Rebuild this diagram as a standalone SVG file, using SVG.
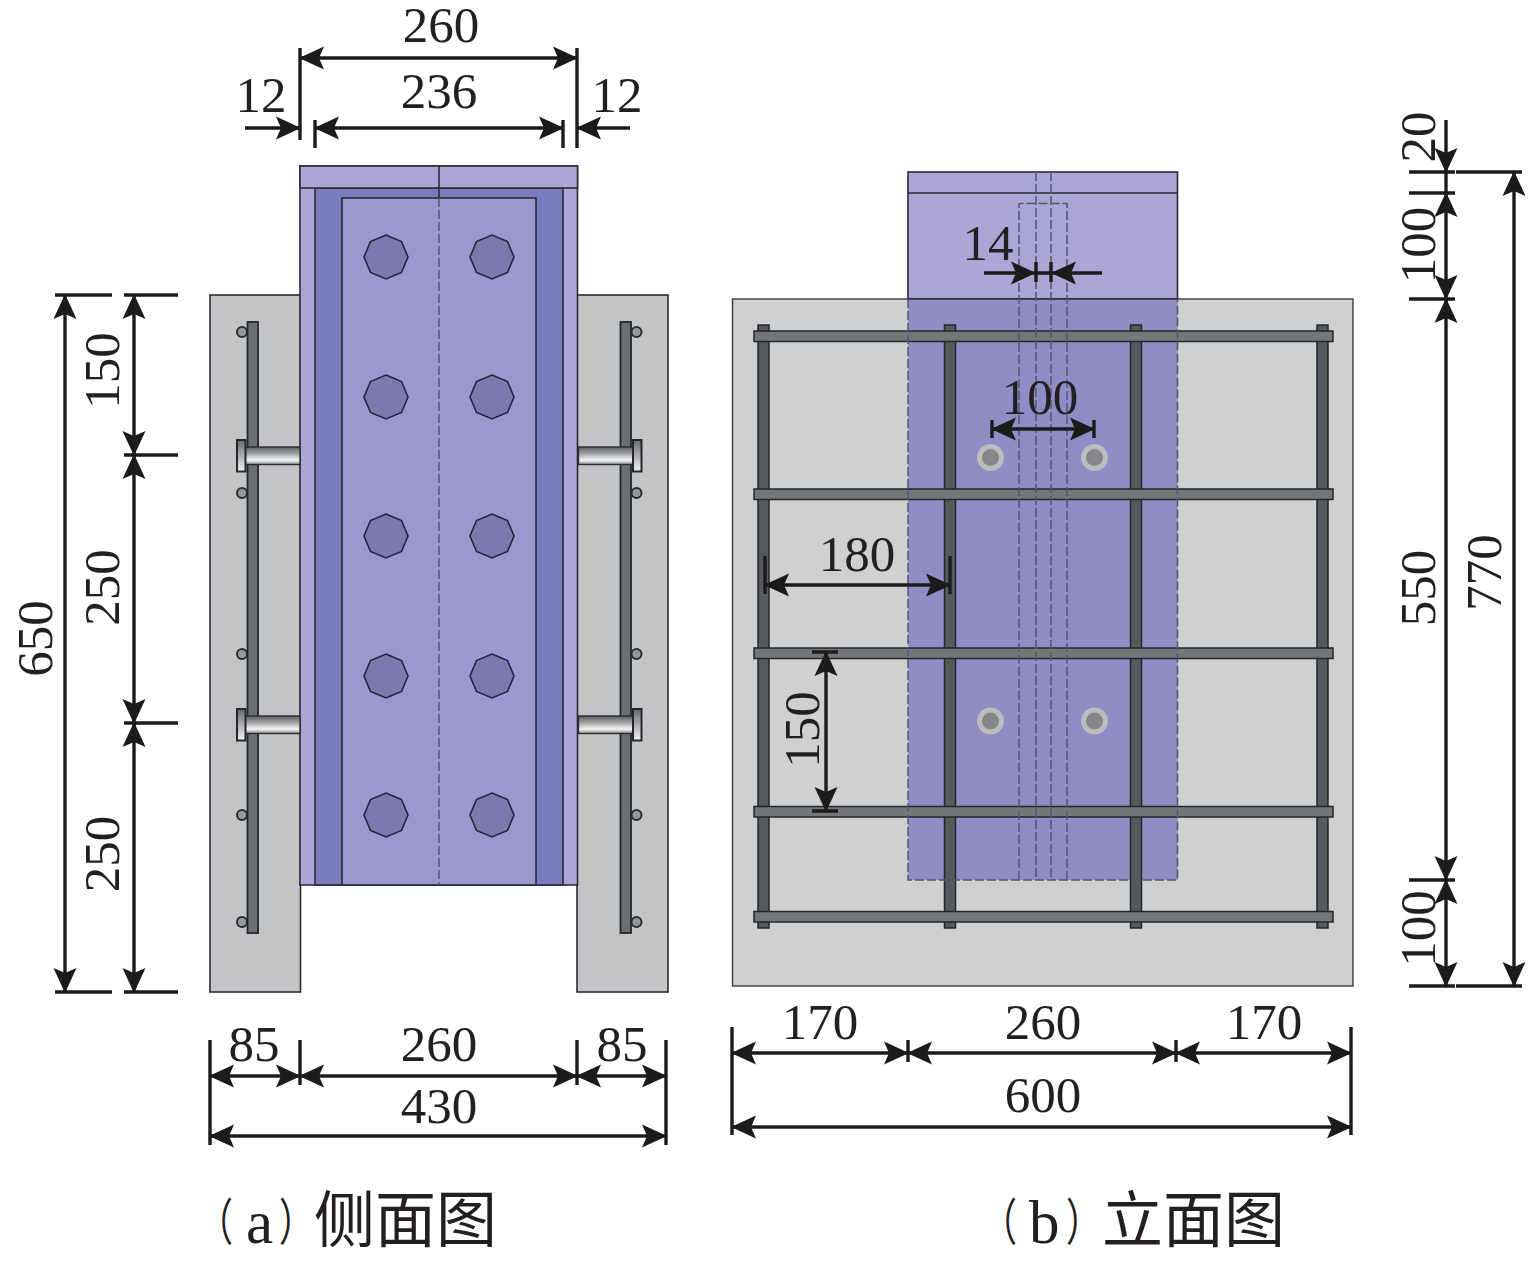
<svg xmlns="http://www.w3.org/2000/svg" xmlns:xlink="http://www.w3.org/1999/xlink" width="1535" height="1262" viewBox="0 0 1535 1262">
<style>
.t{font-family:"Liberation Serif","Noto Sans CJK SC",serif;font-size:51px;fill:#231f20;text-anchor:middle}
.cap{font-family:"Liberation Serif","Noto Sans CJK SC",serif;font-size:61px;fill:#231f20}
.par{font-family:"Noto Sans CJK SC",serif;font-size:50px;fill:#231f20}
.d{stroke:#1d1a1b;stroke-width:3.4;fill:none}
.a{marker-start:url(#ar);marker-end:url(#ar)}
.e{marker-end:url(#ar)}
.o{stroke:#2b2b38;stroke-width:1.6}
.dash{stroke:#55566e;stroke-width:1.5;stroke-dasharray:9 3;fill:none}
.conc{fill:#c3c4c6;stroke:#2b2b30;stroke-width:1.6}
.bolt{fill:#7d78ae;stroke:#24243e;stroke-width:1.6}
.barv{fill:#6b6e72;stroke:#25262a;stroke-width:1.8}
.rh{fill:#74777a;stroke:#25262a;stroke-width:1.5}
.rv{fill:#56595e;stroke:#25262a;stroke-width:1.5}
.sm{fill:#97989c;stroke:#2b2b30;stroke-width:2}
.hole{fill:#85878a;stroke:#bdbdbd;stroke-width:5}
</style>
<defs>
<marker id="ar" markerUnits="userSpaceOnUse" markerWidth="30" markerHeight="28" viewBox="-27 -14 29 28" refX="0" refY="0" orient="auto-start-reverse"><path d="M1,0 L-24,-11.500 L-19,0 L-24,11.500 z" fill="#1d1a1b"/></marker>
<linearGradient id="sg" x1="0" y1="0" x2="0" y2="1"><stop offset="0" stop-color="#5f6265"/><stop offset=".35" stop-color="#9a9c9e"/><stop offset=".75" stop-color="#f4f4f4"/><stop offset="1" stop-color="#8d8f92"/></linearGradient>
<linearGradient id="hg" x1="0" y1="0" x2="0" y2="1"><stop offset="0" stop-color="#66696c"/><stop offset="1" stop-color="#f2f2f2"/></linearGradient>
<polygon id="oct" class="bolt" points="0,-22 15.500,-15.500 22,0 15.500,15.500 0,22 -15.500,15.500 -22,0 -15.500,-15.500"/>
<g id="stud"><rect x="245" y="0" width="55" height="17.500" fill="url(#sg)" stroke="#2b2b30" stroke-width="1.4"/><rect x="237" y="-7" width="8.500" height="31.500" fill="url(#hg)" stroke="#25262a" stroke-width="2"/></g>
</defs>
<g id="side-view">
<g id="concrete-left"><rect class="conc" x="210" y="295" width="90.500" height="697"/></g>
<g id="concrete-right"><rect class="conc" x="577" y="295" width="91" height="697"/></g>
<g id="column-side">
<rect x="300" y="166" width="277.500" height="719" fill="#aba6d6" class="o"/>
<rect x="315" y="188" width="248" height="697" fill="#7a7cc0" class="o"/>
<rect x="342" y="198" width="194" height="687" fill="#9c98cf" class="o"/>
<rect x="300" y="166" width="277.500" height="22" fill="#aba6d6" class="o"/>
<path class="o" d="M439,166V198"/>
<path class="dash" d="M439,198V885"/>
</g>
<g id="bolts">
<use xlink:href="#oct" x="386" y="257"/><use xlink:href="#oct" x="492" y="257"/>
<use xlink:href="#oct" x="386" y="397"/><use xlink:href="#oct" x="492" y="397"/>
<use xlink:href="#oct" x="386" y="536"/><use xlink:href="#oct" x="492" y="536"/>
<use xlink:href="#oct" x="386" y="676"/><use xlink:href="#oct" x="492" y="676"/>
<use xlink:href="#oct" x="386" y="815"/><use xlink:href="#oct" x="492" y="815"/>
</g>
<g id="rebar-left">
<circle class="sm" cx="242" cy="332" r="5"/><circle class="sm" cx="242" cy="493" r="5"/><circle class="sm" cx="242" cy="654" r="5"/><circle class="sm" cx="242" cy="815" r="5"/><circle class="sm" cx="242" cy="922" r="5"/>
<rect class="barv" x="247.500" y="322" width="10.500" height="611"/>
<use xlink:href="#stud" y="447"/><use xlink:href="#stud" y="716"/>
</g>
<g id="rebar-right">
<circle class="sm" cx="636.500" cy="332" r="5"/><circle class="sm" cx="636.500" cy="493" r="5"/><circle class="sm" cx="636.500" cy="654" r="5"/><circle class="sm" cx="636.500" cy="815" r="5"/><circle class="sm" cx="636.500" cy="922" r="5"/>
<rect class="barv" x="620.500" y="322" width="10.500" height="611"/>
<use xlink:href="#stud" y="447" transform="translate(878.500,0) scale(-1,1)"/><use xlink:href="#stud" y="716" transform="translate(878.500,0) scale(-1,1)"/>
</g>
</g>
<g id="elevation-view">
<g id="concrete-main"><rect x="732.500" y="299" width="620.500" height="687" fill="#d0d0d0" stroke="#3a3a3e" stroke-width="1.4"/></g>
<g id="column-elev">
<rect x="908" y="172" width="269.500" height="127" fill="#aba6d6" class="o"/>
<rect x="908" y="299" width="269.500" height="581" fill="#8f8cc6"/>
<path class="o" d="M908,193H1177.500M908,299H1177.500"/>
</g>
<g id="rebars">
<rect class="rv" x="758" y="325" width="11" height="603"/><rect class="rv" x="944.500" y="325" width="11" height="603"/><rect class="rv" x="1130.500" y="325" width="11" height="603"/><rect class="rv" x="1317" y="325" width="11" height="603"/>
<rect class="rh" x="754" y="331" width="579" height="10.500"/><rect class="rh" x="754" y="489" width="579" height="10.500"/><rect class="rh" x="754" y="648" width="579" height="10.500"/><rect class="rh" x="754" y="806.500" width="579" height="10.500"/><rect class="rh" x="754" y="911.500" width="579" height="10.500"/>
</g>
<g id="holes">
<circle class="hole" cx="990.500" cy="457.500" r="11"/><circle class="hole" cx="1094.500" cy="457.500" r="11"/><circle class="hole" cx="990.500" cy="721" r="11"/><circle class="hole" cx="1094.500" cy="721" r="11"/>
</g>
<g id="hidden-lines">
<path class="dash" d="M908,299V880H1177.500V299"/>
<path class="dash" d="M1019,880V203.500H1067V880M1036,172V880M1051,172V880"/>
</g>
</g>
<g id="connectors">
<path class="d" d="M300,48V140M577,48V148M315,120V148M563,120V148"/>
<path class="d a" d="M300,58H577"/>
<path class="d a" d="M315,128H563"/>
<path class="d e" d="M245,128H300"/>
<path class="d e" d="M630,128H577"/>
<path class="d" d="M55,295H112M124,295H178M124,455H178M124,723H178M55,992H112M124,992H178"/>
<path class="d a" d="M65,295V992"/>
<path class="d a" d="M134,295V455"/>
<path class="d a" d="M134,455V723"/>
<path class="d a" d="M134,723V992"/>
<path class="d" d="M210,1040V1145M300,1040V1085M577,1040V1085M666,1040V1145"/>
<path class="d a" d="M210,1076H300"/>
<path class="d a" d="M300,1076H577"/>
<path class="d a" d="M577,1076H666"/>
<path class="d a" d="M210,1136H666"/>
<path class="d" d="M732,1027V1135M908,1040V1062M1176,1040V1062M1351,1027V1135"/>
<path class="d a" d="M732,1053H908"/>
<path class="d a" d="M908,1053H1176"/>
<path class="d a" d="M1176,1053H1351"/>
<path class="d a" d="M732,1127H1351"/>
<path class="d" d="M1409,172H1455M1409,193H1455M1409,299H1455M1409,880H1455M1409,986H1455M1456,172H1522M1456,986H1522"/>
<path class="d e" d="M1446,120V172"/>
<path class="d" d="M1446,172V193"/>
<path class="d a" d="M1446,193V299"/>
<path class="d a" d="M1446,299V880"/>
<path class="d a" d="M1446,880V986"/>
<path class="d a" d="M1514,172V986"/>
<path class="d" d="M1036,262V282M1051,262V282M1036,273H1051"/>
<path class="d e" d="M984,273H1035"/>
<path class="d e" d="M1102,273H1052"/>
<path class="d" d="M992,420V438M1094,420V438"/>
<path class="d a" d="M992,429H1094"/>
<path class="d" d="M765,556V594M950,556V594"/>
<path class="d a" d="M765,585H950"/>
<path class="d" d="M812,652H838M812,811H838"/>
<path class="d a" d="M826,652V811"/>
</g>
<g id="labels">
<text class="t" x="441" y="42">260</text>
<text class="t" x="439" y="108">236</text>
<text class="t" x="261" y="111.500">12</text>
<text class="t" x="617" y="111.500">12</text>
<text class="t" transform="translate(52,638.500) rotate(-90)">650</text>
<text class="t" transform="translate(119,370.500) rotate(-90)">150</text>
<text class="t" transform="translate(119,587.500) rotate(-90)">250</text>
<text class="t" transform="translate(119,854) rotate(-90)">250</text>
<text class="t" x="254" y="1061">85</text>
<text class="t" x="439" y="1061">260</text>
<text class="t" x="622" y="1061">85</text>
<text class="t" x="439" y="1123">430</text>
<text class="t" x="820" y="1038.500">170</text>
<text class="t" x="1043" y="1038.500">260</text>
<text class="t" x="1264" y="1038.500">170</text>
<text class="t" x="1043" y="1112">600</text>
<text class="t" x="988" y="260">14</text>
<text class="t" x="1040" y="414">100</text>
<text class="t" x="857" y="571">180</text>
<text class="t" transform="translate(819,729.500) rotate(-90)">150</text>
<text class="t" transform="translate(1435,137) rotate(-90)">20</text>
<text class="t" transform="translate(1435,245) rotate(-90)">100</text>
<text class="t" transform="translate(1435,588) rotate(-90)">550</text>
<text class="t" transform="translate(1435,928.500) rotate(-90)">100</text>
<text class="t" transform="translate(1501,572.500) rotate(-90)">770</text>
<text class="par" transform="translate(198,1240) scale(.7,1)">（</text>
<text class="cap" x="246" y="1243">a</text>
<text class="par" transform="translate(279,1240) scale(.7,1)">）</text>
<text class="cap" x="314" y="1242">侧面图</text>
<text class="par" transform="translate(982,1240) scale(.7,1)">（</text>
<text class="cap" x="1029" y="1243">b</text>
<text class="par" transform="translate(1066,1240) scale(.7,1)">）</text>
<text class="cap" x="1102" y="1242">立面图</text>
</g>
</svg>
